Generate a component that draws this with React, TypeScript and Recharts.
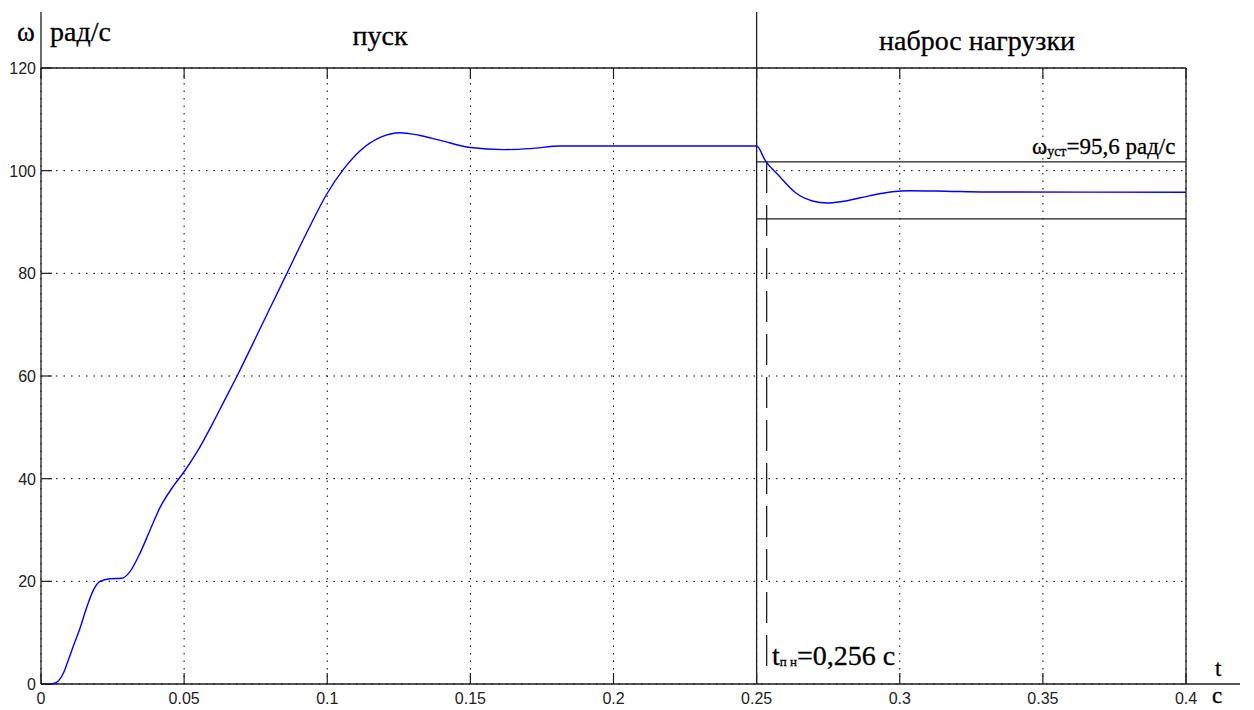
import React from "react";
import { LineChart, Line, XAxis, YAxis, CartesianGrid, ReferenceLine } from "recharts";

// speed response: start-up then load step at 0.25 s
const timeS = [
  0, 0.003, 0.005, 0.0078, 0.0095, 0.0113, 0.0136, 0.016, 0.0183, 0.0206,
  0.0241, 0.0282, 0.0311, 0.0346, 0.0381, 0.0416, 0.0463, 0.0498, 0.0544,
  0.0602, 0.0637, 0.0684, 0.0766, 0.0859, 0.0929, 0.0999, 0.1057, 0.1115,
  0.1185, 0.1255, 0.132, 0.1395, 0.15, 0.1616, 0.171, 0.1815, 0.25, 0.2531,
  0.2578, 0.2636, 0.2695, 0.2747, 0.2811, 0.2893, 0.2974, 0.3033, 0.316,
  0.33, 0.4,
];
const omega = [
  0, 0, 0.2, 2.1, 4.6, 7.4, 10.8, 15, 18.3, 20, 20.5, 20.6, 21.9, 25.5, 30,
  34.4, 38.6, 41.2, 45.1, 51, 54.8, 59.9, 69.3, 80, 88, 95.5, 100.3, 103.9,
  106.5, 107.4, 106.9, 105.9, 104.5, 104.1, 104.3, 104.8, 104.8, 101.9, 99,
  95.7, 94.1, 93.7, 94.1, 95.1, 95.9, 96.1, 96, 95.85, 95.8,
];

const xTicks = [0, 0.05, 0.1, 0.15, 0.2, 0.25, 0.3, 0.35, 0.4];
const yTicks = [0, 20, 40, 60, 80, 100, 120];

const tEnd = 0.4;
const loadStepT = 0.25;
const bandUpper = 101.7;
const bandLower = 90.6;
const settleT = 0.2535;
const settleBottom = 2.7;

const data = timeS.map((t, i) => ({ t, w: omega[i] }));

const AXIS = "#1e1e1e";
const TICK_LEN = 11;
const SERIF = "'Liberation Serif', 'DejaVu Serif', serif";
const SANS = "'Liberation Sans', Arial, sans-serif";

const serif = (size: number): React.CSSProperties => ({ fontFamily: SERIF, fontSize: size });

const BottomTick = ({ x, y, payload }: any) => (
  <g>
    <line x1={x} x2={x} y1={y} y2={y - TICK_LEN} stroke={AXIS} strokeWidth={1.2} />
    <text x={x} y={y + 20} textAnchor="middle" style={{ fontFamily: SANS, fontSize: 16 }} fill="#222">
      {payload.value}
    </text>
  </g>
);

const TopTick = ({ x, y }: any) => (
  <line x1={x} x2={x} y1={y} y2={y + TICK_LEN} stroke={AXIS} strokeWidth={1.2} />
);

const LeftTick = ({ x, y, payload }: any) => (
  <g>
    <line x1={x} x2={x + TICK_LEN} y1={y} y2={y} stroke={AXIS} strokeWidth={1.2} />
    <text x={x - 5} y={y + 6} textAnchor="end" style={{ fontFamily: SANS, fontSize: 16 }} fill="#222">
      {payload.value}
    </text>
  </g>
);

const RightTick = ({ x, y }: any) => (
  <line x1={x} x2={x - TICK_LEN} y1={y} y2={y} stroke={AXIS} strokeWidth={1.2} />
);

// axis / marker lines that run past the plot box
const upToTop = (p: any) => (
  <line x1={p.x1} x2={p.x2} y1={12} y2={Math.max(p.y1, p.y2)} stroke={AXIS} strokeWidth={1.3} />
);
const outToRight = (p: any) => (
  <line x1={Math.min(p.x1, p.x2)} x2={1240} y1={p.y1} y2={p.y2} stroke={AXIS} strokeWidth={1.3} />
);

export default function App() {
  return (
    <div style={{ position: "absolute", left: 0, top: 0, background: "#fff" }}>
      <LineChart
        width={1254}
        height={710}
        data={data}
        margin={{ top: 67, right: 67, left: 0, bottom: 0 }}
      >
        <CartesianGrid stroke="#000" strokeWidth={1} strokeDasharray="1.5 6" />
        <XAxis
          dataKey="t"
          type="number"
          domain={[0, tEnd]}
          ticks={xTicks}
          height={26}
          tickSize={0}
          tickMargin={0}
          tickLine={false}
          axisLine={false}
          tick={<BottomTick />}
          interval={0}
        />
        <XAxis
          xAxisId="top"
          orientation="top"
          dataKey="t"
          type="number"
          domain={[0, tEnd]}
          ticks={xTicks}
          height={1}
          tickSize={0}
          tickMargin={0}
          tickLine={false}
          axisLine={{ stroke: AXIS, strokeWidth: 1.3 }}
          tick={<TopTick />}
          interval={0}
        />
        <YAxis
          type="number"
          domain={[0, 120]}
          ticks={yTicks}
          width={41}
          tickSize={0}
          tickMargin={0}
          tickLine={false}
          axisLine={false}
          tick={<LeftTick />}
          interval={0}
        />
        <YAxis
          yAxisId="right"
          orientation="right"
          type="number"
          domain={[0, 120]}
          ticks={yTicks}
          width={1}
          tickSize={0}
          tickMargin={0}
          tickLine={false}
          axisLine={{ stroke: AXIS, strokeWidth: 1.3 }}
          tick={<RightTick />}
          interval={0}
        />
        <ReferenceLine x={0} shape={upToTop} />
        <ReferenceLine x={loadStepT} shape={upToTop} />
        <ReferenceLine y={0} shape={outToRight} />
        <ReferenceLine
          segment={[{ x: loadStepT, y: bandUpper }, { x: tEnd, y: bandUpper }]}
          stroke={AXIS}
          strokeWidth={1.3}
        />
        <ReferenceLine
          segment={[{ x: loadStepT, y: bandLower }, { x: tEnd, y: bandLower }]}
          stroke={AXIS}
          strokeWidth={1.3}
        />
        <ReferenceLine
          segment={[{ x: settleT, y: bandUpper }, { x: settleT, y: settleBottom }]}
          stroke={AXIS}
          strokeWidth={1.3}
          strokeDasharray="31 12"
        />
        <Line
          type="monotone"
          dataKey="w"
          stroke="#0000ff"
          strokeWidth={1.4}
          dot={false}
          activeDot={false}
          isAnimationActive={false}
        />
        <g fill="#000" stroke="#000" strokeWidth={0.3}>
          <text x={17} y={41} style={serif(27)}>ω</text>
          <text x={50} y={41} style={serif(28)}>рад/с</text>
          <text x={380} y={45} style={serif(28)} textAnchor="middle">пуск</text>
          <text x={977} y={50} style={serif(28)} textAnchor="middle">наброс нагрузки</text>
          <text x={1032} y={154} style={serif(23)}>
            ω<tspan style={{ fontSize: 14 }} dy={2}>уст</tspan>
            <tspan dy={-2}>=95,6 рад/с</tspan>
          </text>
          <text x={772} y={665} style={serif(28)}>
            t<tspan style={{ fontSize: 13 }} dy={1}>п н</tspan>
            <tspan dy={-1}>=0,256 с</tspan>
          </text>
          <text x={1215} y={676} style={serif(23)}>t</text>
          <text x={1212} y={703} style={serif(23)}>с</text>
        </g>
      </LineChart>
    </div>
  );
}
